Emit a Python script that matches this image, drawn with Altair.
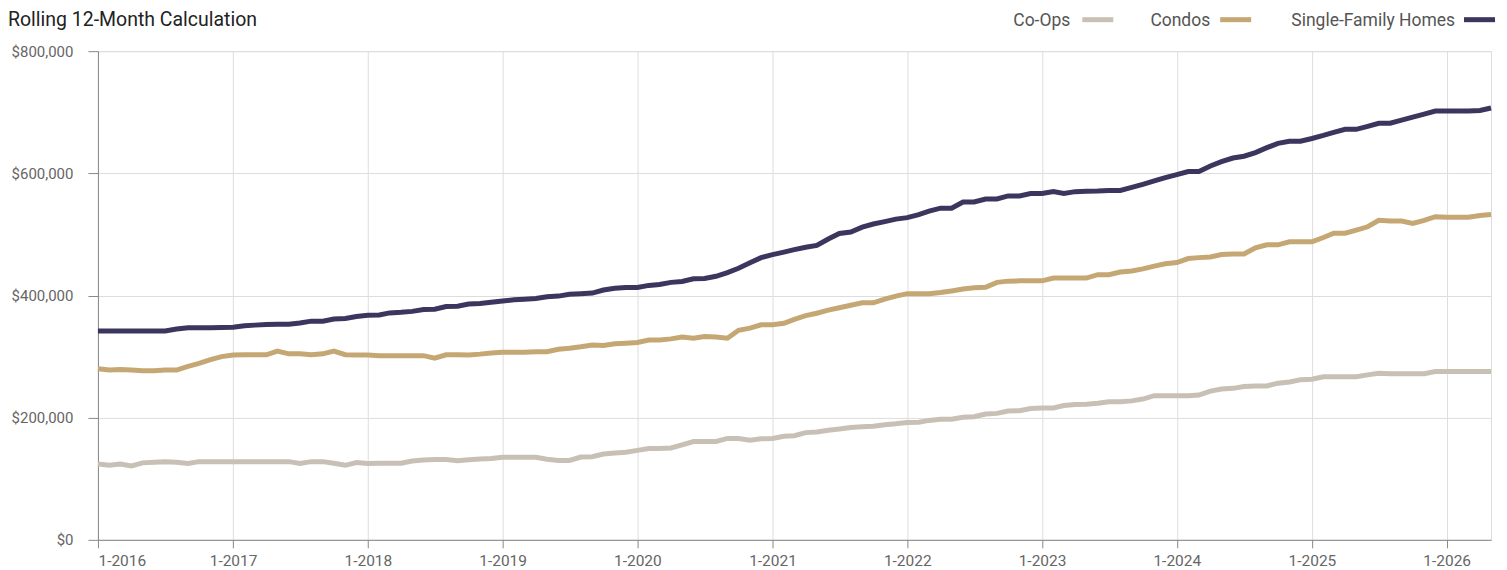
import altair as alt
import pandas as pd

# ---------------- data (values in thousands of dollars) ----------------
series_names = ["Co-Ops", "Condos", "Single-Family Homes"]
series_colors = ["#c8c0b5", "#c5a774", "#3a365e"]

months = pd.date_range("2016-01-01", "2026-05-01", freq="MS")

coops = [
    124, 122, 124, 121, 126, 127, 128, 127, 125, 128, 128, 128,   # 2016
    128, 128, 128, 128, 128, 128, 125, 128, 128, 125.5, 122, 126.5,  # 2017
    125, 125.5, 125.5, 125.5, 129, 130.5, 131.5, 131.5, 129.5, 131, 132.5, 133,  # 2018
    135, 135, 135, 135, 132, 130, 130, 135.5, 136, 140.5, 142, 143.5,  # 2019
    146.5, 149.5, 149.5, 150.5, 155.5, 161, 161, 161, 166, 166, 163, 165.5,  # 2020
    166, 169.5, 170.5, 175.5, 176.5, 179.5, 181.5, 184, 185, 186, 188.5, 190,  # 2021
    192, 192.5, 195.5, 197.5, 197.5, 200.5, 201.5, 206, 207, 211, 211.5, 215,  # 2022
    216, 216, 220, 221.5, 222, 223.5, 226, 226, 227.5, 230.5, 236, 236,  # 2023
    236, 236, 237, 243.5, 247, 248, 251, 252, 252, 256.5, 258.5, 262,  # 2024
    263, 267, 267, 267, 267, 270, 272.5, 272, 272, 272, 272, 275.5,  # 2025
    275.5, 275.5, 275.5, 275.5, 275.5,  # 2026
]

condos = [
    280, 278, 279, 278, 277, 277, 278, 278, 284, 289, 295, 300,   # 2016
    302.5, 303, 303, 303, 309, 304.5, 304.5, 303, 304.5, 309, 303, 302.5,  # 2017
    302.5, 301.5, 301.5, 301.5, 301.5, 301.5, 297.5, 303, 303, 302.5, 304, 306,  # 2018
    307, 307, 307, 308, 308, 312, 313.5, 316, 319, 318, 321, 322,  # 2019
    323, 327, 327, 329, 332, 330, 333, 332, 330, 343, 346.5, 352,  # 2020
    352, 354.5, 361, 367, 371, 376, 380, 384, 388, 388, 394, 399,  # 2021
    403, 403, 403, 405, 407.5, 410.5, 412.5, 413.5, 421.5, 423.5, 424, 424,  # 2022
    424, 428.5, 428.5, 428.5, 428.5, 434, 434, 438.5, 440, 443.5, 448, 452,  # 2023
    454, 460.5, 462, 463, 467, 468, 468, 478, 483, 483, 488, 488,  # 2024
    488, 495, 502, 502, 507, 512.5, 523, 522, 522, 518, 523, 529,  # 2025
    528, 528, 528, 531, 532.5,  # 2026
]

single_family = [
    342, 342, 342, 342, 342, 342, 342, 345, 347, 347, 347, 347.5,  # 2016
    348, 350.5, 351.5, 352.5, 353, 353, 355, 358, 358, 361.5, 362.5, 365.5,  # 2017
    367.5, 368, 371.5, 372.5, 374, 377, 377.5, 382, 382.5, 386, 387, 389,  # 2018
    391, 393, 394, 395, 398, 399, 402, 403, 404, 409, 412, 413,  # 2019
    413, 416.5, 418, 421.5, 423, 427.5, 428, 431.5, 437.5, 444.5, 453.5, 462,  # 2020
    467, 471, 475, 479, 482, 492.5, 501.5, 504, 512, 517, 521, 525,  # 2021
    527.5, 532.5, 538, 543, 543, 553, 553, 558, 558, 563, 563, 567,  # 2022
    567, 570, 567, 570, 570.5, 571, 572, 572, 577, 582, 587.5, 593,  # 2023
    598, 603, 603, 612, 619, 625, 628, 634, 642, 649, 652.5, 652.5,  # 2024
    657, 662, 667, 672, 672, 677, 682, 682, 687, 692, 697, 702,  # 2025
    702, 702, 702, 703, 707,  # 2026
]

title_text = "Rolling 12-Month Calculation"

# ---------------- tables ----------------
values_by_series = [coops, condos, single_family]
rows = []
for name, vals in zip(series_names, values_by_series):
    for d, v in zip(months, vals):
        rows.append({"date": d, "series": name, "value": v * 1000})
df = pd.DataFrame(rows)

FONT = "Roboto, sans-serif"
GRID = "#d9d9d9"

W, H = 1394, 489

year_ticks = [alt.DateTime(year=y, month=1, date=1) for y in range(2016, 2027)]

lines = alt.Chart(df).mark_line(strokeWidth=5, interpolate="linear").encode(
    x=alt.X(
        "date:T",
        title=None,
        scale=alt.Scale(domain=[alt.DateTime(year=2016, month=1, date=1),
                                alt.DateTime(year=2026, month=5, date=1)]),
        axis=alt.Axis(values=year_ticks, format="%-m-%Y", tickSize=8,
                      labelPadding=6, labelFontSize=15.5, labelColor="#666666",
                      labelFont=FONT, grid=True),
    ),
    y=alt.Y(
        "value:Q",
        title=None,
        scale=alt.Scale(domain=[0, 800000]),
        axis=alt.Axis(values=[0, 200000, 400000, 600000, 800000], format="$,.0f",
                      tickSize=10, labelPadding=15, labelFontSize=15,
                      labelColor="#666666", labelFont=FONT, grid=True),
    ),
    color=alt.Color("series:N", scale=alt.Scale(domain=series_names, range=series_colors),
                    legend=None),
    detail="series:N",
)

# ---------------- manual legend (label left of swatch) ----------------
legend_df = pd.DataFrame({"series": series_names})
label_right = [973, 1113, 1358]
swatch_left = [985, 1123, 1367]
legend_layers = []
for name, col, lx, sx in zip(series_names, series_colors, label_right, swatch_left):
    base = alt.Chart(legend_df).transform_filter(alt.datum.series == name)
    legend_layers.append(
        base.mark_text(align="right", baseline="alphabetic", fontSize=17.5,
                       font=FONT, color="#555555").encode(
            x=alt.value(lx), y=alt.value(-25), text="series:N")
    )
    legend_layers.append(
        base.mark_rule(strokeWidth=5, color=col).encode(
            x=alt.value(sx), x2=alt.value(sx + 31), y=alt.value(-31.5))
    )

title = alt.Chart(pd.DataFrame({"t": [title_text]})).mark_text(
    align="left", baseline="alphabetic", fontSize=19.5, font=FONT, color="#222222"
).encode(x=alt.value(-90), y=alt.value(-25.5), text="t:N")

chart = alt.layer(lines, *legend_layers, title).properties(
    width=W,
    height=H,
    autosize=alt.AutoSizeParams(type="none"),
    padding={"left": 90, "top": 43, "right": 8, "bottom": 30},
).configure_axis(
    domain=False,
    gridColor=GRID,
    gridWidth=2,
    tickColor=GRID,
    tickWidth=2,
).configure_view(
    stroke=GRID,
    strokeWidth=2,
).configure(background="white")

chart.save("out.html", embed_options={"renderer": "svg", "actions": False})
